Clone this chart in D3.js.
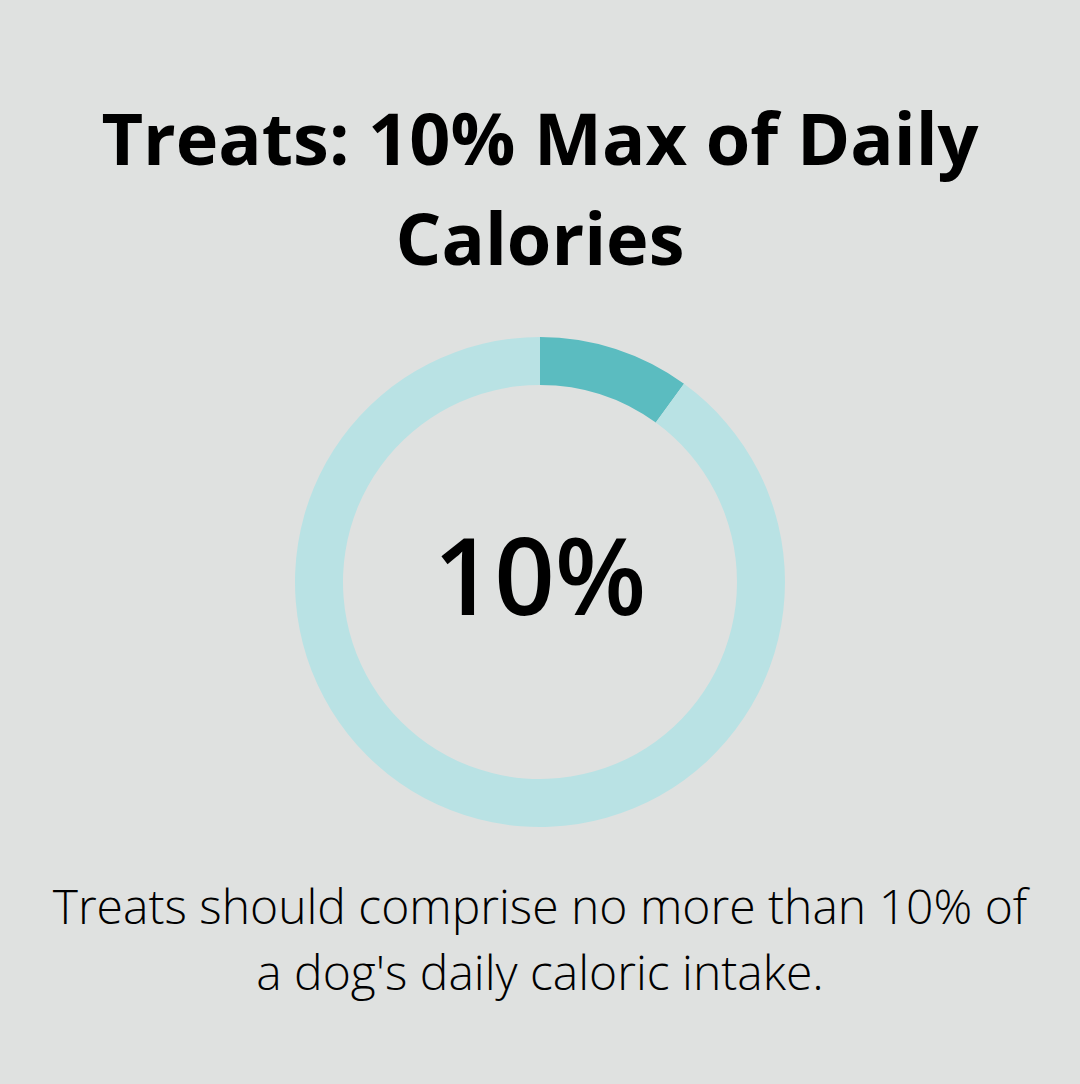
<!DOCTYPE html>
<html><head><meta charset="utf-8">
<script src="https://cdn.jsdelivr.net/npm/d3@7"></script>
<style>body{margin:0;background:#dfe1e0;}svg{display:block;font-family:"Open Sans",sans-serif;}</style>
</head><body>
<script>
const categories = ["Treats", "Other calories"];
const values = [10, 90];
const titleLines = ["Treats: 10% Max of Daily", "Calories"];
const centerLabel = "10%";
const noteLines = ["Treats should comprise no more than 10% of", "a dog's daily caloric intake."];
const colors = ["#5bbcc0", "#b9e2e4"];

const W = 1080, H = 1084;
const svg = d3.select("body").append("svg").attr("width", W).attr("height", H);
svg.append("rect").attr("width", W).attr("height", H).attr("fill", "#dfe1e0");

svg.selectAll("text.title").data(titleLines).join("text")
  .attr("x", W/2).attr("y", (d,i)=>165+i*100).attr("text-anchor","middle")
  .attr("font-size", 72).attr("font-weight", 700).attr("fill","#000").text(d=>d);

const pie = d3.pie().sort(null).value(d=>d);
const arc = d3.arc().innerRadius(197).outerRadius(245);
const color = d3.scaleOrdinal().domain(categories).range(colors);
svg.append("g").attr("transform","translate(540,582)")
  .selectAll("path").data(pie(values)).join("path")
  .attr("d", arc).attr("fill", (d,i)=>color(categories[i]));

svg.append("text").attr("x",540).attr("y",615).attr("text-anchor","middle")
  .attr("font-size",106).attr("font-weight",600).attr("fill","#000").text(centerLabel);

svg.selectAll("text.note").data(noteLines).join("text")
  .attr("x", W/2).attr("y",(d,i)=>924+i*66).attr("text-anchor","middle")
  .attr("font-size",48).attr("font-weight",300).attr("fill","#000").text(d=>d);
</script>
</body></html>
